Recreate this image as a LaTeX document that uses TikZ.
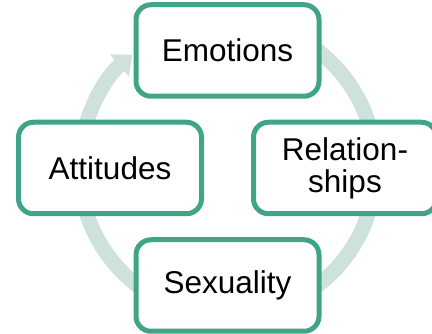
\documentclass[tikz,border=0pt]{standalone}
\usepackage{fontspec}
\setmainfont{Liberation Sans}
\usetikzlibrary{arrows.meta}
\definecolor{stagegreen}{RGB}{64,164,137}
\definecolor{cyclegray}{RGB}{206,226,219}

\begin{document}
\begin{tikzpicture}[x=1pt, y=1pt,
    stage/.style={draw=stagegreen, line width=5pt, fill=white, rounded corners=15pt,
        minimum width=183pt, minimum height=91.5pt, align=center,
        font=\fontsize{31.5}{32}\selectfont},
    cyclearrow/.style={draw=cyclegray, line width=15pt, -{Triangle[length=17pt, width=28pt]}}]
    \useasboundingbox (0,0) rectangle (432,334);
    \clip (0,0) rectangle (432,334);

    % Centre of the cycle
    \coordinate (Hub) at (227.5,166);

    % Cycle arrow behind the stages
    \draw[cyclearrow] (Hub) ++(80:148) arc[start angle=80, end angle=-230, radius=148];

    % Stages
    \foreach \ang/\name/\txt in {90/Emotions/Emotions, 0/Relationships/{Relation-\\ships}, 270/Sexuality/Sexuality, 180/Attitudes/Attitudes}
    {
        \node[stage] (\name) at ([shift={(\ang:117.5)}]Hub) {\txt};
    }
\end{tikzpicture}
\end{document}
